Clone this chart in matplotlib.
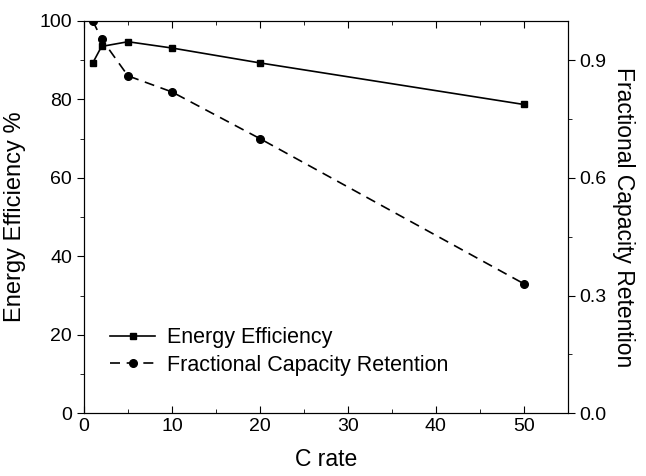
import matplotlib
matplotlib.use('Agg')
import matplotlib.pyplot as plt
from matplotlib.ticker import MultipleLocator

plt.rcParams['font.family'] = ['Liberation Sans', 'DejaVu Sans']

c_rate = [1, 2, 5, 10, 20, 50]
energy_eff = [89.3, 93.5, 94.7, 93.1, 89.3, 78.7]
cap_retention = [1.0, 0.954, 0.86, 0.819, 0.70, 0.33]

fig = plt.figure(figsize=(6.46, 4.76), dpi=100)
ax = fig.add_axes([0.130, 0.132, 0.749, 0.824])
ax2 = ax.twinx()

l1, = ax.plot(c_rate, energy_eff, '-', color='black', marker='s', markersize=4.5, lw=1.2,
              label='Energy Efficiency')
l2, = ax2.plot(c_rate, cap_retention, '--', color='black', marker='o', markersize=5.5, lw=1.2,
               dashes=(6, 4), label='Fractional Capacity Retention')

ax.set_xlim(0, 55)
ax.set_ylim(0, 100)
ax2.set_ylim(0, 1.0)
ax.xaxis.set_major_locator(MultipleLocator(10))
ax.xaxis.set_minor_locator(MultipleLocator(5))
ax.yaxis.set_major_locator(MultipleLocator(20))
ax.yaxis.set_minor_locator(MultipleLocator(10))
ax2.yaxis.set_major_locator(MultipleLocator(0.3))
ax2.yaxis.set_minor_locator(MultipleLocator(0.15))
ax2.set_yticklabels([f'{v:.1f}' for v in ax2.get_yticks()])

ax.tick_params(axis='x', which='both', direction='in', top=True, labelsize=14)
ax.tick_params(axis='x', which='major', length=5)
ax.tick_params(axis='x', which='minor', length=3)
ax.tick_params(axis='y', which='both', direction='out', labelsize=14)
ax.tick_params(axis='y', which='major', length=5)
ax.tick_params(axis='y', which='minor', length=3)
ax2.tick_params(axis='y', which='both', direction='out', labelsize=14)
ax2.tick_params(axis='y', which='major', length=5)
ax2.tick_params(axis='y', which='minor', length=3)

ax.set_xlabel('C rate', fontsize=16.5, labelpad=9)
ax.set_ylabel('Energy Efficiency %', fontsize=17, labelpad=10)
ax2.set_ylabel('Fractional Capacity Retention', fontsize=16.5, rotation=270, labelpad=20)

ax.legend(handles=[l1, l2], loc='lower left', bbox_to_anchor=(0.054, 0.095), frameon=False,
          fontsize=15.5, handlelength=2.1, handletextpad=0.55, labelspacing=0.3,
          borderpad=0, borderaxespad=0)

plt.savefig('out.png', dpi=100)
